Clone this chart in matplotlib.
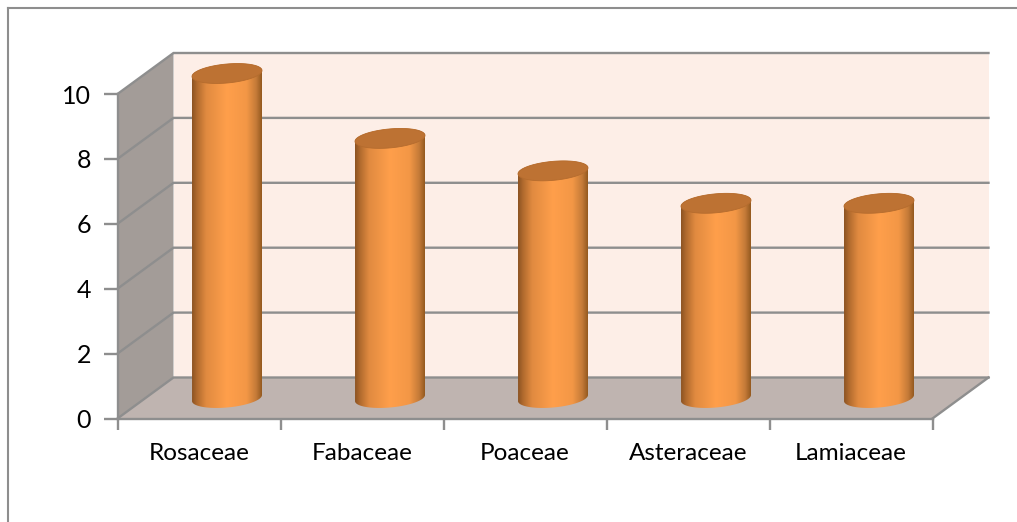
import numpy as np
import matplotlib
matplotlib.use("Agg")
import matplotlib.pyplot as plt
from matplotlib.colors import LinearSegmentedColormap
from matplotlib.patches import Polygon

families = ["Rosaceae", "Fabaceae", "Poaceae", "Asteraceae", "Lamiaceae"]
counts = [10, 8, 7, 6, 6]
value_ticks = [0, 2, 4, 6, 8, 10]

W, H = 1017, 522
GREY = "#8E8E8E"
plt.rcParams["font.family"] = ["Lato", "DejaVu Sans"]

fig = plt.figure(figsize=(W / 100, H / 100), dpi=100, facecolor="white")
# The axes rectangle is the front face of the 3-D plot box
ax = fig.add_axes([117.5 / W, 1 - 418.5 / H, 815 / W, 324.5 / H])
ax.set_facecolor("none")

px_x = 5 / 815
px_y = 10 / 324.5
depth_x = 56 * px_x
depth_y = 41 * px_y
x_max = len(families)
y_max = value_ticks[-1]

# Back wall, side wall and floor of the box
ax.add_patch(Polygon([(depth_x, depth_y), (x_max + depth_x, depth_y),
                      (x_max + depth_x, y_max + depth_y), (depth_x, y_max + depth_y)],
                     fc="#FDEEE7", ec="none", zorder=1, clip_on=False))
ax.add_patch(Polygon([(0, 0), (depth_x, depth_y), (depth_x, y_max + depth_y), (0, y_max)],
                     fc="#A39C98", ec="none", zorder=1, clip_on=False))
ax.add_patch(Polygon([(0, 0), (x_max, 0), (x_max + depth_x, depth_y), (depth_x, depth_y)],
                     fc="#BFB4B0", ec="none", zorder=1, clip_on=False))

# Gridlines run along the side wall and then across the back wall
for v in value_ticks:
    ax.plot([0, depth_x, x_max + depth_x], [v, v + depth_y, v + depth_y],
            color=GREY, lw=1.7, zorder=2, clip_on=False, solid_joinstyle="miter")
ax.plot([0, 0], [0, y_max], color=GREY, lw=1.7, zorder=2, clip_on=False)
ax.plot([x_max, x_max + depth_x], [0, depth_y], color=GREY, lw=1.7, zorder=2, clip_on=False)

# Cylinders: horizontal shading clipped to the outline, with a darker lid
shade = LinearSegmentedColormap.from_list(
    "cylinder",
    [(0.0, "#8C5322"), (0.07, "#B06A2E"), (0.20, "#E08A40"), (0.50, "#FF9F4B"),
     (0.78, "#F39746"), (0.92, "#C47A38"), (1.0, "#94591F")])
half_w = 35 * px_x
rim_h = 9.5 * px_y
tilt = 3 * px_y
t = np.linspace(0, 2 * np.pi, 121)

for i, value in enumerate(counts):
    cx = i + 0.5 + depth_x / 2
    base = depth_y / 2
    top = value + base
    ex = cx + half_w * np.cos(t)
    rim = rim_h * np.sin(t) + tilt * np.cos(t)
    lower = t > np.pi
    order = np.argsort(ex[lower])
    outline = list(zip(ex[lower][order], (base + rim[lower])[order]))
    upper = ~lower
    order = np.argsort(-ex[upper])
    outline += list(zip(ex[upper][order], (top + rim[upper])[order]))
    body = Polygon(outline, fc="none", ec="none", zorder=3, clip_on=False)
    ax.add_patch(body)
    img = ax.imshow(np.linspace(0, 1, 256)[None, :], cmap=shade, aspect="auto", zorder=3,
                    extent=(cx - half_w, cx + half_w, base - 2 * rim_h, top + 2 * rim_h),
                    interpolation="bilinear")
    # The lid rises above the axes rectangle, so clip to the figure and the outline only
    img.set_clip_box(fig.bbox)
    img.set_clip_path(body)
    ax.add_patch(Polygon(list(zip(ex, top + rim)), fc="#BD7233", ec="#B56C2E", lw=0.6,
                         zorder=4, clip_on=False))

ax.set_xlim(0, x_max)
ax.set_ylim(0, y_max)

for side in ax.spines:
    ax.spines[side].set_visible(False)
ax.set_yticks(value_ticks)
ax.tick_params(axis="y", length=10, width=1.7, color=GREY, pad=9, labelsize=18, labelcolor="black")
ax.set_xticks(range(x_max + 1))
ax.set_xticklabels([])
ax.tick_params(axis="x", which="major", length=8, width=1.7, color=GREY)
ax.set_xticks(np.arange(x_max) + 0.5, minor=True)
ax.set_xticklabels(families, minor=True)
ax.tick_params(axis="x", which="minor", length=0, pad=18, labelsize=17.5, labelcolor="black")
ax.plot([0, x_max], [0, 0], color=GREY, lw=1.7, zorder=2, clip_on=False)

# Chart-area border, left and top edges only
frame_x, frame_y = 7.5 / W, 1 - 7.5 / H
fig.add_artist(plt.Line2D([frame_x, frame_x], [0, frame_y], color=GREY, lw=1.5))
fig.add_artist(plt.Line2D([frame_x, 1], [frame_y, frame_y], color=GREY, lw=1.5))

fig.savefig("out.png", dpi=100)
